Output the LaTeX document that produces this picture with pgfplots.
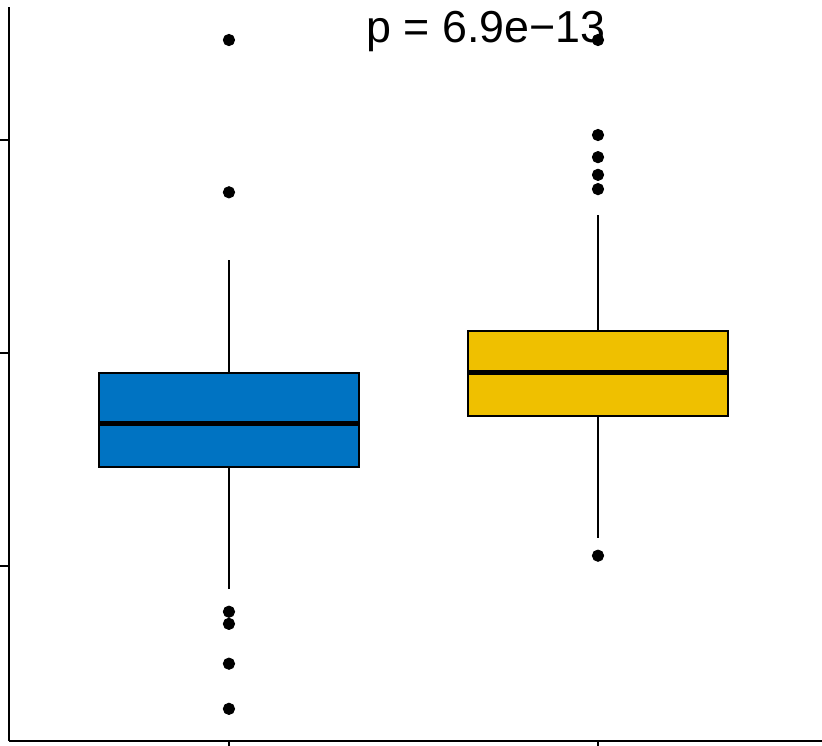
\documentclass[border=0pt]{standalone}
\usepackage{fontspec}
\setmainfont{Liberation Sans}
\usepackage{pgfplots}
\pgfplotsset{compat=1.18}
\usepgfplotslibrary{statistics}
\definecolor{jcoblue}{HTML}{0073C2}
\definecolor{jcoyellow}{HTML}{EFC000}
\begin{document}
\begin{tikzpicture}
\begin{axis}[
    name=ax,
    scale only axis, width=406.5pt, height=367pt,
    xmin=0.404, xmax=2.607, ymin=0.178, ymax=3.624,
    axis lines*=left, axis line style={line width=1.3pt},
    tick align=outside, major tick length=4.5pt,
    tick style={line width=1.3pt, black},
    xtick={1,2}, ytick={1,2,3}, xticklabels={}, yticklabels={},
    clip=false,
    boxplot/draw direction=y,
    boxplot/box extend=0.703,
    boxplot/whisker extend=0,
    boxplot/every median/.style={line width=2.5pt},
]
\addplot+[boxplot prepared={median=1.670, upper quartile=1.9075,
    lower quartile=1.463, upper whisker=2.437, lower whisker=0.891,
    draw position=1},
    solid, fill=jcoblue, draw=black, line width=1pt,
    mark=*, mark size=2.8pt, mark options={fill=black, draw=black, line width=0.5pt}]
    table[row sep=\\, y index=0] {v\\ 3.469\\ 2.754\\ 0.785\\ 0.728\\ 0.541\\ 0.329\\};
\addplot+[boxplot prepared={median=1.909, upper quartile=2.103,
    lower quartile=1.704, upper whisker=2.648, lower whisker=1.131,
    draw position=2},
    solid, fill=jcoyellow, draw=black, line width=1pt,
    mark=*, mark size=2.8pt, mark options={fill=black, draw=black, line width=0.5pt}]
    table[row sep=\\, y index=0] {v\\ 3.469\\ 3.023\\ 2.919\\ 2.836\\ 2.769\\ 1.048\\};
\node[anchor=base west, inner sep=0pt, font=\fontsize{22.4}{26}\selectfont]
    at (axis cs:1.371,3.455) {p = 6.9e−13};
\end{axis}
\pgfresetboundingbox
\path[use as bounding box] ([xshift=-4.5pt,yshift=-2pt]ax.south west)
    rectangle ([yshift=3.5pt]ax.north east);
\end{tikzpicture}
\end{document}
